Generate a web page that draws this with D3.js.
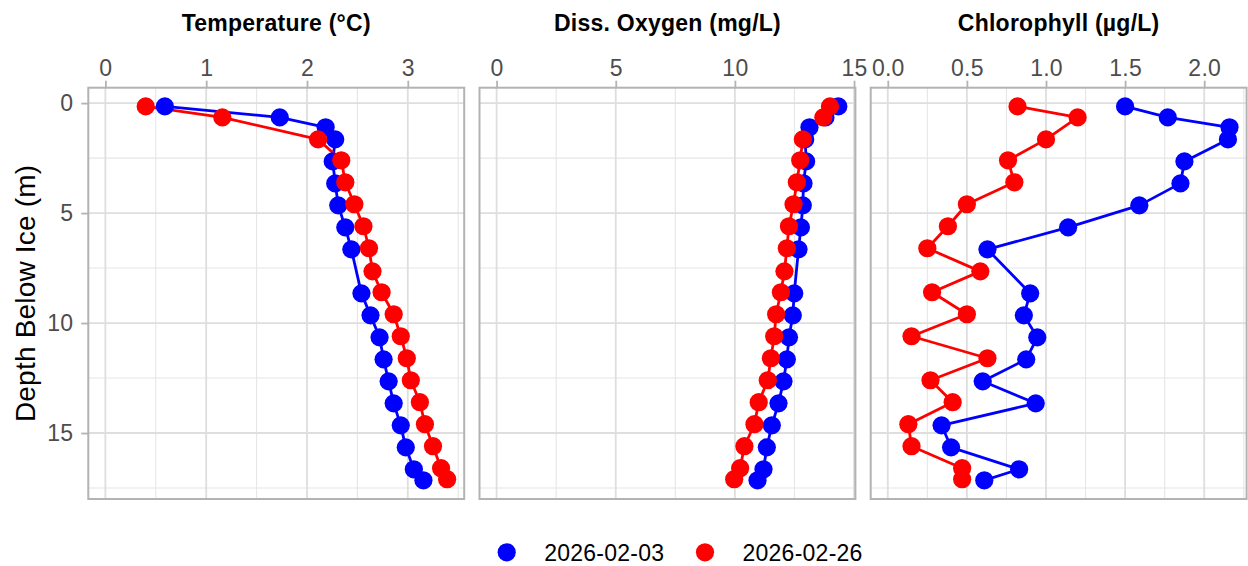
<!DOCTYPE html>
<html>
<head>
<meta charset="utf-8">
<script src="https://cdnjs.cloudflare.com/ajax/libs/d3/7.8.5/d3.min.js"></script>
<style>
  html, body { margin: 0; padding: 0; background: #ffffff; }
  svg { display: block; font-family: "Liberation Sans", Arial, Helvetica, sans-serif; }
</style>
</head>
<body>
<svg id="chart" width="1248" height="566"></svg>
<script>
// Sampling dates (legend order)
const dates = ["2026-02-03", "2026-02-26"];
const dateColors = ["#0000ff", "#ff0000"];

// Profile depths below the ice (m)
const depthFeb03 = [0.15, 0.65, 1.1, 1.65, 2.65, 3.65, 4.65, 5.65, 6.65, 8.65, 9.65, 10.65, 11.65, 12.65, 13.65, 14.65, 15.65, 16.65, 17.15];
const depthFeb26 = [0.15, 0.65, 1.65, 2.6, 3.6, 4.6, 5.6, 6.6, 7.65, 8.6, 9.6, 10.6, 11.6, 12.6, 13.6, 14.6, 15.6, 16.6, 17.1];

// Water temperature (°C)
const tempFeb03 = [0.59, 1.73, 2.185, 2.28, 2.255, 2.28, 2.31, 2.38, 2.44, 2.54, 2.63, 2.72, 2.76, 2.81, 2.86, 2.93, 2.98, 3.06, 3.155];
const tempFeb26 = [0.40, 1.16, 2.11, 2.34, 2.38, 2.47, 2.56, 2.615, 2.65, 2.74, 2.86, 2.93, 2.99, 3.03, 3.12, 3.17, 3.25, 3.33, 3.39];

// Dissolved oxygen (mg/L)
const doFeb03 = [14.34, 13.8, 13.13, 12.95, 12.99, 12.88, 12.85, 12.77, 12.67, 12.49, 12.43, 12.27, 12.18, 12.04, 11.83, 11.55, 11.34, 11.2, 10.95];
const doFeb26 = [13.99, 13.71, 12.85, 12.74, 12.6, 12.46, 12.27, 12.18, 12.08, 11.93, 11.73, 11.65, 11.51, 11.38, 11.0, 10.82, 10.4, 10.22, 9.97];

// Chlorophyll (µg/L)
const chlFeb03 = [1.50, 1.77, 2.16, 2.15, 1.875, 1.85, 1.59, 1.14, 0.63, 0.90, 0.86, 0.945, 0.875, 0.60, 0.935, 0.34, 0.40, 0.83, 0.61];
const chlFeb26 = [0.82, 1.20, 1.00, 0.76, 0.80, 0.50, 0.38, 0.25, 0.585, 0.28, 0.50, 0.15, 0.63, 0.27, 0.41, 0.13, 0.15, 0.47, 0.47];

// Panel titles and axis ticks
const panelTitles = ["Temperature (°C)", "Diss. Oxygen (mg/L)", "Chlorophyll (µg/L)"];
const tempTicks = [0, 1, 2, 3];
const doTicks = [0, 5, 10, 15];
const chlTicks = [0, 0.5, 1.0, 1.5, 2.0];
const depthTicks = [0, 5, 10, 15];
const yTitle = "Depth Below Ice (m)";

const panels = [
  { title: panelTitles[0], ticks: tempTicks, fmt: d3.format("d"), series: [tempFeb03, tempFeb26] },
  { title: panelTitles[1], ticks: doTicks, fmt: d3.format("d"), series: [doFeb03, doFeb26] },
  { title: panelTitles[2], ticks: chlTicks, fmt: d3.format(".1f"), series: [chlFeb03, chlFeb26] }
];
const depths = [depthFeb03, depthFeb26];

// Layout
const panelTop = 87.7, panelBottom = 499;
const panelLeft0 = 88.3, panelW = 375.9, panelGap = 15.3;
const gridMajor = "#dedede", gridMinor = "#e6e6e6", frame = "#b3b3b3", tickText = "#4d4d4d";
const smallFont = 23, smallSpacing = "0.25px", titleFont = 28, titleSpacing = "0.2px";

const svg = d3.select("#chart");

// padded continuous range (5% each side)
function padded(lo, hi) {
  const r = hi - lo;
  return [lo - r * 0.05, hi + r * 0.05];
}

const allDepths = depthFeb03.concat(depthFeb26);
const y = d3.scaleLinear()
  .domain(padded(d3.min(allDepths), d3.max(allDepths)))
  .range([panelTop, panelBottom]);

function minorOf(ticks, domain) {
  const step = ticks[1] - ticks[0];
  const out = [];
  for (let v = ticks[0] - step / 2; v <= domain[1] + 1e-9; v += step) {
    if (v >= domain[0]) out.push(v);
  }
  return out;
}

panels.forEach((p, i) => {
  const left = panelLeft0 + i * (panelW + panelGap);
  const right = left + panelW;
  const vals = p.series[0].concat(p.series[1]);
  const x = d3.scaleLinear()
    .domain(padded(Math.min(0, d3.min(vals)), d3.max(vals)))
    .range([left, right]);

  const g = svg.append("g");

  // clip so grid lines stay inside the panel
  const clipId = "clip" + i;
  svg.append("clipPath").attr("id", clipId)
    .append("rect").attr("x", left).attr("y", panelTop)
    .attr("width", panelW).attr("height", panelBottom - panelTop);

  const grid = g.append("g").attr("clip-path", `url(#${clipId})`);
  const xMinor = minorOf(p.ticks, x.domain());
  const yMinor = minorOf(depthTicks, y.domain());

  grid.selectAll(".xminor").data(xMinor).join("line")
    .attr("x1", d => x(d)).attr("x2", d => x(d))
    .attr("y1", panelTop).attr("y2", panelBottom)
    .attr("stroke", gridMinor).attr("stroke-width", 1.1);
  grid.selectAll(".yminor").data(yMinor).join("line")
    .attr("x1", left).attr("x2", right)
    .attr("y1", d => y(d)).attr("y2", d => y(d))
    .attr("stroke", gridMinor).attr("stroke-width", 1.1);
  grid.selectAll(".xmajor").data(p.ticks).join("line")
    .attr("x1", d => x(d)).attr("x2", d => x(d))
    .attr("y1", panelTop).attr("y2", panelBottom)
    .attr("stroke", gridMajor).attr("stroke-width", 1.8);
  grid.selectAll(".ymajor").data(depthTicks).join("line")
    .attr("x1", left).attr("x2", right)
    .attr("y1", d => y(d)).attr("y2", d => y(d))
    .attr("stroke", gridMajor).attr("stroke-width", 1.8);

  // top x axis
  const xAxis = d3.axisTop(x).tickValues(p.ticks).tickFormat(p.fmt).tickSize(7).tickPadding(5);
  const ax = g.append("g").attr("transform", `translate(0,${panelTop})`).call(xAxis);
  ax.select(".domain").remove();
  ax.selectAll(".tick line").attr("stroke", frame).attr("stroke-width", 1.8);
  ax.selectAll(".tick text").attr("fill", tickText).attr("font-size", smallFont)
    .attr("letter-spacing", smallSpacing)
    .attr("font-family", "Liberation Sans, Arial, sans-serif");

  // left y axis on the first panel only
  if (i === 0) {
    const yAxis = d3.axisLeft(y).tickValues(depthTicks).tickFormat(d3.format("d")).tickSize(7).tickPadding(8);
    const ay = g.append("g").attr("transform", `translate(${left},0)`).call(yAxis);
    ay.select(".domain").remove();
    ay.selectAll(".tick line").attr("stroke", frame).attr("stroke-width", 1.8);
    ay.selectAll(".tick text").attr("fill", tickText).attr("font-size", smallFont)
      .attr("letter-spacing", smallSpacing)
      .attr("font-family", "Liberation Sans, Arial, sans-serif");
  }

  // panel title
  g.append("text")
    .attr("x", (left + right) / 2).attr("y", 31)
    .attr("text-anchor", "middle")
    .attr("font-size", smallFont).attr("font-weight", "bold").attr("fill", "#000")
    .attr("letter-spacing", smallSpacing)
    .text(p.title);

  // profiles: paths first, then points, one date after the other
  const line = d3.line().x(d => x(d[0])).y(d => y(d[1]));
  p.series.forEach((s, k) => {
    const pts = s.map((v, j) => [v, depths[k][j]]);
    g.append("path").datum(pts)
      .attr("d", line).attr("fill", "none")
      .attr("stroke", dateColors[k]).attr("stroke-width", 2.8)
      .attr("stroke-linejoin", "round");
  });
  p.series.forEach((s, k) => {
    const pts = s.map((v, j) => [v, depths[k][j]]);
    g.selectAll(".pt" + k).data(pts).join("circle")
      .attr("cx", d => x(d[0])).attr("cy", d => y(d[1]))
      .attr("r", 9.1).attr("fill", dateColors[k]);
  });

  // panel frame
  g.append("rect")
    .attr("x", left).attr("y", panelTop)
    .attr("width", panelW).attr("height", panelBottom - panelTop)
    .attr("fill", "none").attr("stroke", frame).attr("stroke-width", 2);
});

// y axis title
svg.append("text")
  .attr("transform", `translate(34.5,${(panelTop + panelBottom) / 2}) rotate(-90)`)
  .attr("text-anchor", "middle")
  .attr("font-size", titleFont).attr("fill", "#000")
  .attr("letter-spacing", titleSpacing)
  .text(yTitle);

// legend
const legend = svg.append("g");
const legendX = [506.7, 705];
dates.forEach((d, k) => {
  legend.append("circle").attr("cx", legendX[k]).attr("cy", 552.3).attr("r", 9.1).attr("fill", dateColors[k]);
  legend.append("text").attr("x", legendX[k] + 37.5).attr("y", 560.8)
    .attr("font-size", smallFont).attr("fill", "#000")
    .attr("letter-spacing", smallSpacing).text(d);
});
</script>
</body>
</html>
